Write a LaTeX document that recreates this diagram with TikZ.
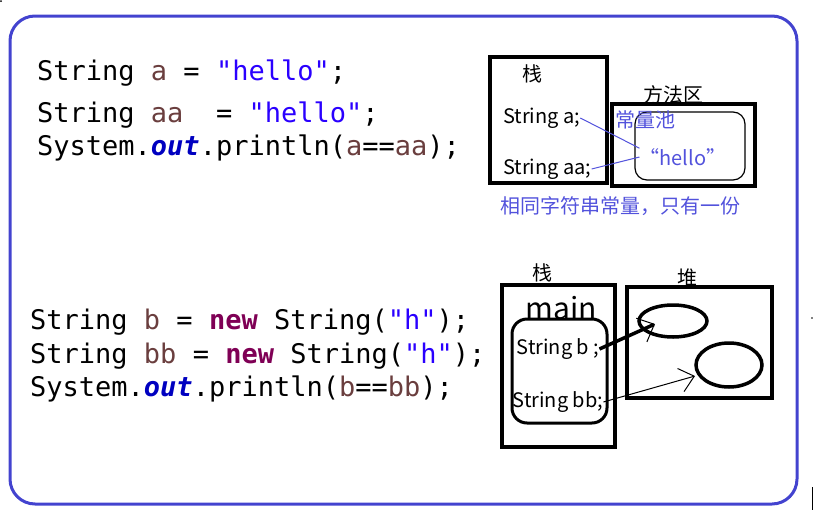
\documentclass[tikz,border=0pt]{standalone}
\usepackage{fontspec}
\setmonofont{DejaVu Sans Mono}
\newfontfamily\cjk{Noto Sans CJK SC}
\usetikzlibrary{arrows.meta, positioning, shapes.geometric}

\definecolor{frameblue}{HTML}{4343CF}
\definecolor{varbrown}{HTML}{6A3E3E}
\definecolor{strblue}{HTML}{2A00FF}
\definecolor{kwpurple}{HTML}{7F0055}
\definecolor{fieldblue}{HTML}{0000C0}
\definecolor{noteblue}{HTML}{5252DC}

\newcommand{\jvar}[1]{\textcolor{varbrown}{#1}}
\newcommand{\jstr}[1]{\textcolor{strblue}{#1}}
\newcommand{\jkw}[1]{\textcolor{kwpurple}{\bfseries #1}}
\newcommand{\jout}{\textcolor{fieldblue}{\bfseries\itshape out}}

\begin{document}
\begin{tikzpicture} [
    x=1pt, y=-1pt,
    code/.style={anchor=base west, inner sep=0pt,
        font=\ttfamily\fontsize{27}{27}\selectfont},
    memlabel/.style={inner sep=0pt, font=\cjk\fontsize{20}{20}\selectfont},
    note/.style={memlabel, text=noteblue},
    membox/.style={draw, line width=4pt},
    object/.style={ellipse, draw, line width=3.5pt, inner sep=0pt}]

\useasboundingbox (0,0) rectangle (817,517);

% Frame
\draw [frameblue, line width=3pt, rounded corners=25pt]
    (10,16) rectangle (797,504);
\fill (1,1) circle (1pt);
\fill (812,318) circle (0.8pt);
\draw [line width=1pt] (812,487) -- (812,510);

% Code, literal strings
\node (l1) [code] at (37,80)
    {String \jvar{a} = \jstr{"hello"};};
\node (l2) [code] at (37,122)
    {String \jvar{aa}~~= \jstr{"hello"};};
\node (l3) [code] at (37,155)
    {System.\jout.println(\jvar{a}==\jvar{aa});};

% Code, new objects
\node (m1) [code] at (30,329)
    {String \jvar{b} = \jkw{new} String(\jstr{"h"});};
\node (m2) [code] at (30,363)
    {String \jvar{bb} = \jkw{new} String(\jstr{"h"});};
\node (m3) [code] at (30,396)
    {System.\jout.println(\jvar{b}==\jvar{bb});};

% Stack and method area
\draw [membox] (490,57) rectangle (607,183);
\node (stack1) [memlabel] at (532,74) {栈};
\node (sa) [memlabel, anchor=west] at (503,118) {String a;};
\node (saa) [memlabel, anchor=west] at (503,169) {String aa;};

\draw [membox] (612,104) rectangle (755,186);
\node (method) [memlabel] at (673,95) {方法区};
\draw [line width=1.2pt, rounded corners=12pt] (635,112) rectangle (745,180);
\node (pool) [note, anchor=west] at (615,120) {常量池};
\node (hello) [note] at (683,157) {“hello”};
\node (same) [note] at (620,206) {相同字符串常量，只有一份};

\draw [noteblue, line width=1pt] (sa.east) -- (hello.north west);
\draw [noteblue, line width=1pt] (saa.east) -- (hello.west);

% Stack and heap
\draw [membox] (502,285) rectangle (615,447);
\node (stack2) [memlabel] at (542,273) {栈};
\node (main) [memlabel, font=\cjk\fontsize{30}{30}\selectfont] at (561,308) {main};
\draw [line width=3pt, rounded corners=15pt] (512,319) rectangle (607,423);
\node (sb) [memlabel] at (558,349) {String b ;};
\node (sbb) [memlabel] at (558,402) {String bb;};

\draw [membox] (627,287) rectangle (772,398);
\node (heap) [memlabel] at (687,278) {堆};
\node (obj1) [object, minimum width=68pt, minimum height=32pt] at (673,321) {};
\node (obj2) [object, minimum width=66pt, minimum height=44pt] at (729,365) {};
\coordinate (tip1) at (655,324);
\coordinate (tip2) at (695,376);

\draw [line width=3.5pt, -{Straight Barb[line width=1pt, length=14pt, width=26pt]}]
    (sb.east) -- (tip1);
\draw [line width=1pt, -{Straight Barb[line width=1pt, length=14pt, width=24pt]}]
    (sbb.east) -- (tip2);
\end{tikzpicture}
\end{document}
